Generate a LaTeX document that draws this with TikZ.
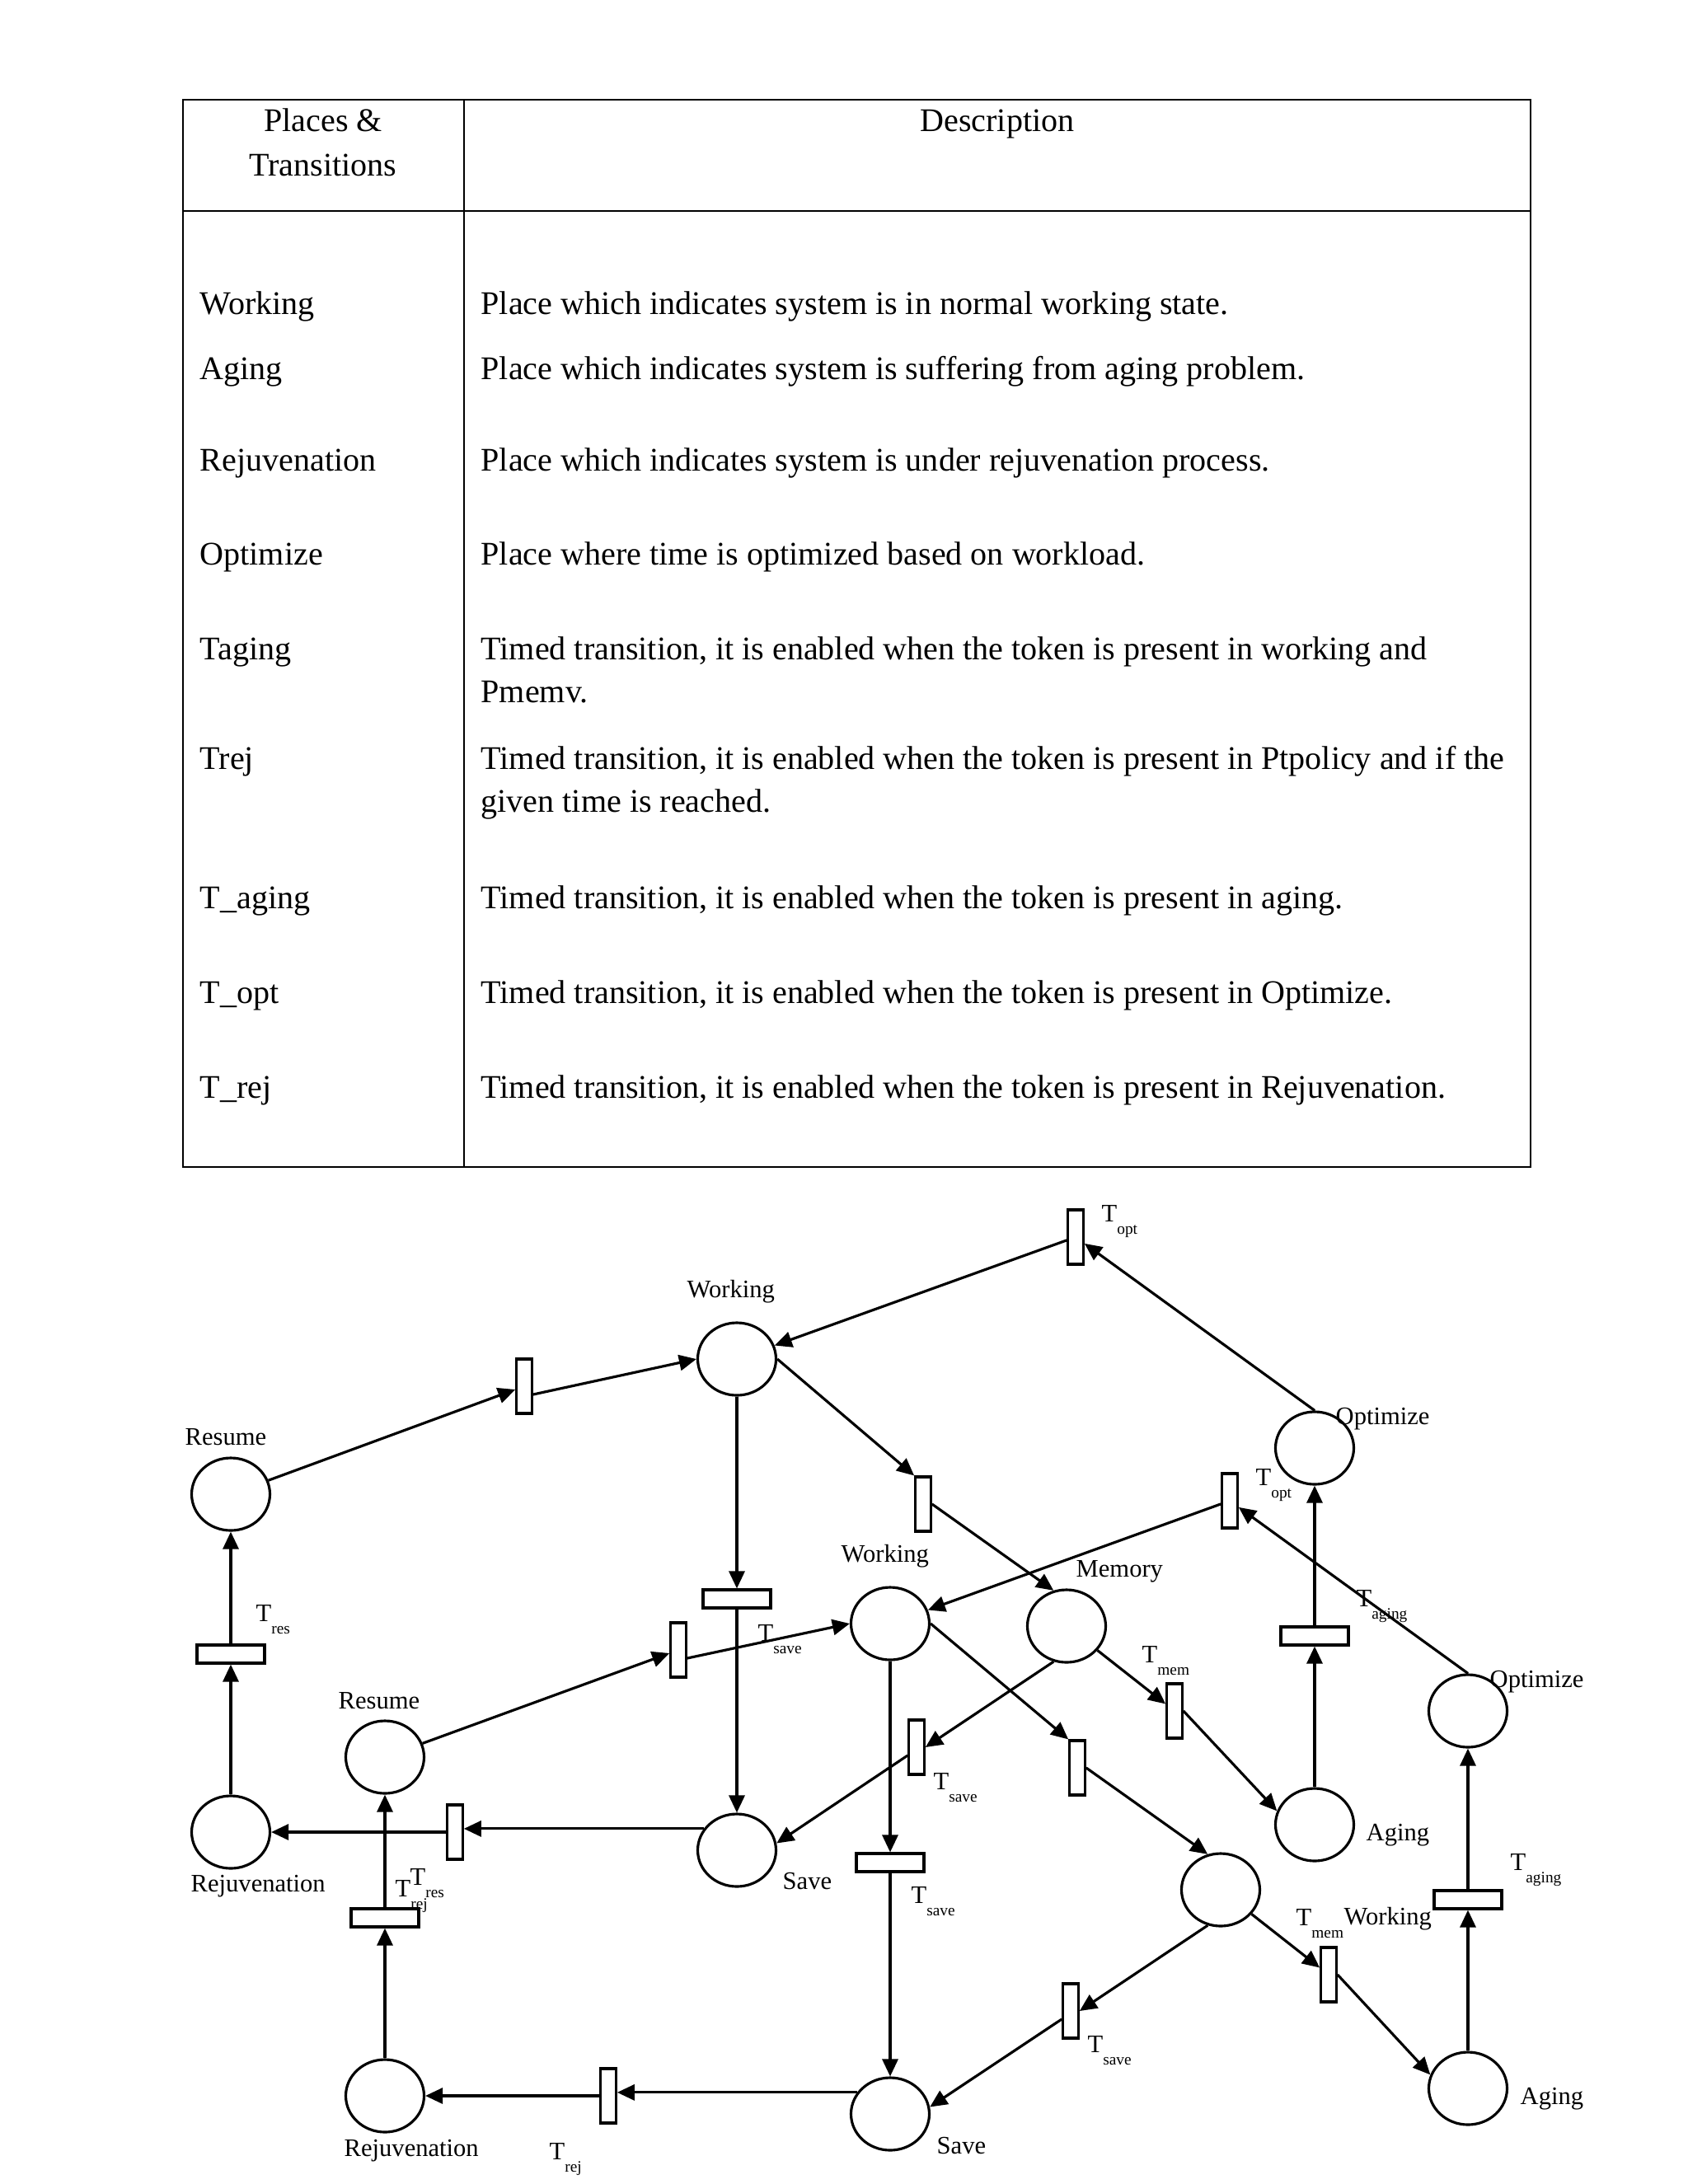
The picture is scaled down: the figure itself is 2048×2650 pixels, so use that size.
\documentclass[tikz,border=0pt]{standalone}
\usepackage{fontspec}
\setmainfont{Liberation Serif}
\usetikzlibrary{shapes.geometric,arrows.meta}
\newcommand{\Tsub}[1]{T\raisebox{-1.5mm}{\fontsize{5.5}{6}\selectfont #1}}

\begin{document}
\begin{tikzpicture}[x=0.1mm,y=-0.1mm,
  cell/.style={anchor=base west,inner sep=0,font=\fontsize{11.4}{14}\selectfont},
  hcell/.style={anchor=base,inner sep=0,font=\fontsize{11.4}{14}\selectfont},
  lab/.style={anchor=base west,inner sep=0,font=\fontsize{8.7}{10}\selectfont},
  place/.style={draw,ellipse,line width=0.9pt,minimum width=9.5mm,minimum height=8.8mm,inner sep=0},
  vbar/.style={draw,rectangle,line width=0.9pt,minimum width=1.85mm,minimum height=6.6mm,inner sep=0},
  hbar/.style={draw,rectangle,line width=0.9pt,minimum width=8.2mm,minimum height=2.2mm,inner sep=0},
  flow/.style={line width=0.9pt,-{Triangle[length=2.1mm,width=1.9mm]}}]
 \useasboundingbox[fill=white] (0,0) rectangle (2048,2650);

 \draw[line width=0.6pt] (222,121) rectangle (1857,1416);
 \draw[line width=0.6pt] (222,256) -- (1857,256);
 \draw[line width=0.6pt] (563,121) -- (563,1416);
 \node[hcell] (head1) at (392,159) {Places \&};
 \node[hcell] (head2) at (392,213) {Transitions};
 \node[hcell] (head3) at (1210,159) {Description};

 \node[cell] (name1) at (242,381) {Working};
 \node[cell] (name2) at (242,460) {Aging};
 \node[cell] (name3) at (242,571) {Rejuvenation};
 \node[cell] (name4) at (242,685) {Optimize};
 \node[cell] (name5) at (242,800) {Taging};
 \node[cell] (name6) at (242,933) {Trej};
 \node[cell] (name7) at (242,1102) {T\_aging};
 \node[cell] (name8) at (242,1217) {T\_opt};
 \node[cell] (name9) at (242,1332) {T\_rej};

 \node[cell] (desc1) at (583,381) {Place which indicates system is in normal working state.};
 \node[cell] (desc2) at (583,460) {Place which indicates system is suffering from aging problem.};
 \node[cell] (desc3) at (583,571) {Place which indicates system is under rejuvenation process.};
 \node[cell] (desc4) at (583,685) {Place where time is optimized based on workload.};
 \node[cell] (desc5) at (583,800) {Timed transition, it is enabled when the token is present in working and};
 \node[cell] (desc5b) at (583,852) {Pmemv.};
 \node[cell] (desc6) at (583,933) {Timed transition, it is enabled when the token is present in Ptpolicy and if the};
 \node[cell] (desc6b) at (583,985) {given time is reached.};
 \node[cell] (desc7) at (583,1102) {Timed transition, it is enabled when the token is present in aging.};
 \node[cell] (desc8) at (583,1217) {Timed transition, it is enabled when the token is present in Optimize.};
 \node[cell] (desc9) at (583,1332) {Timed transition, it is enabled when the token is present in Rejuvenation.};

 \node[place] (work1) at (894,1649) {};
 \node[place] (resume1) at (280,1813) {};
 \node[place] (work2) at (1080,1970) {};
 \node[place] (mem) at (1294,1973) {};
 \node[place] (opt1) at (1595,1757) {};
 \node[place] (opt2) at (1781,2076) {};
 \node[place] (resume2) at (467,2132) {};
 \node[place] (rejuv1) at (280,2223) {};
 \node[place] (save1) at (894,2245) {};
 \node[place] (work3) at (1481,2293) {};
 \node[place] (aging1) at (1595,2214) {};
 \node[place] (aging2) at (1781,2534) {};
 \node[place] (rejuv2) at (467,2543) {};
 \node[place] (save2) at (1080,2565) {};

 \node[vbar] (tA) at (636,1682) {};
 \node[vbar] (tOpt1) at (1305,1501) {};
 \node[vbar] (tB) at (1120,1825) {};
 \node[vbar] (tOpt2) at (1492,1821) {};
 \node[vbar] (tC) at (823,2002) {};
 \node[vbar] (tSave1) at (1112,2120) {};
 \node[vbar] (tD) at (1307,2145) {};
 \node[vbar] (tMem1) at (1425,2076) {};
 \node[vbar] (tRej1) at (552,2223) {};
 \node[vbar] (tSave2) at (1299,2440) {};
 \node[vbar] (tMem2) at (1612,2396) {};
 \node[vbar] (tRej2) at (738,2543) {};
 \node[hbar] (tSaveA) at (894,1940) {};
 \node[hbar] (tRes1) at (280,2007) {};
 \node[hbar] (tAging1) at (1595,1985) {};
 \node[hbar] (tRes2) at (467,2327) {};
 \node[hbar] (tSaveB) at (1080,2260) {};
 \node[hbar] (tAging2) at (1781,2305) {};

 \draw[flow] (resume1) -- (tA);
 \draw[flow] ([yshift=-1mm]tA.east) -- (work1.west);
 \draw[flow] (tOpt1) -- (work1);
 \draw[flow] (opt1.north) -- (tOpt1);
 \draw[flow] (work1.east) -- (tB.north west);
 \draw[flow] (tB.east) -- (mem.110);
 \draw[flow] (work1) -- (tSaveA);
 \draw[flow] (tSaveA) -- (save1);
 \draw[flow] (rejuv1) -- (tRes1);
 \draw[flow] (tRes1) -- (resume1);
 \draw[flow] (resume2) -- (tC);
 \draw[flow] ([yshift=-1mm]tC.east) -- (work2.west);
 \draw[flow] (tOpt2) -- (work2);
 \draw[flow] (opt2.north) -- (tOpt2);
 \draw[flow] (aging1) -- (tAging1);
 \draw[flow] (tAging1) -- (opt1);
 \draw[flow] (work2) -- (tSaveB);
 \draw[flow] (tSaveB) -- (save2);
 \draw[flow] (work2.east) -- (tD.north west);
 \draw[flow] (tD.east) -- (work3.110);
 \draw[flow] (mem.250) -- (tSave1.east);
 \draw[flow] ([yshift=-1mm]tSave1.west) -- (save1.10);
 \draw[flow] (mem) -- (tMem1);
 \draw[flow] (tMem1.east) -- (aging1.160);
 \draw[flow] (save1.147) -- (save1.147 -| tRej1.east);
 \draw[flow] (tRej1) -- (rejuv1);
 \draw[flow] (rejuv2) -- (tRes2);
 \draw[flow] (tRes2) -- (resume2);
 \draw[flow] (work3.250) -- (tSave2.east);
 \draw[flow] ([yshift=-1mm]tSave2.west) -- (save2.10);
 \draw[flow] (work3) -- (tMem2);
 \draw[flow] (tMem2.east) -- (aging2.160);
 \draw[flow] (aging2) -- (tAging2);
 \draw[flow] (tAging2) -- (opt2);
 \draw[flow] (save2.147) -- (save2.147 -| tRej2.east);
 \draw[flow] (tRej2) -- (rejuv2);

 \node[lab] (lWork1) at (833,1574) {Working};
 \node[lab] (lResume1) at (224,1753) {Resume};
 \node[lab] (lWork2) at (1020,1895) {Working};
 \node[lab] (lMem) at (1305,1913) {Memory};
 \node[lab] (lOpt1) at (1620,1728) {Optimize};
 \node[lab] (lOpt2) at (1807,2047) {Optimize};
 \node[lab] (lResume2) at (410,2073) {Resume};
 \node[lab] (lRejuv1) at (231,2295) {Rejuvenation};
 \node[lab] (lSave1) at (949,2292) {Save};
 \node[lab] (lAging1) at (1657,2233) {Aging};
 \node[lab] (lWork3) at (1630,2335) {Working};
 \node[lab] (lAging2) at (1844,2553) {Aging};
 \node[lab] (lRejuv2) at (417,2616) {Rejuvenation};
 \node[lab] (lSave2) at (1136,2613) {Save};

 \node[lab] (lTOpt1) at (1336,1482) {\Tsub{opt}};
 \node[lab] (lTRes1) at (310,1967) {\Tsub{res}};
 \node[lab] (lTSaveA) at (919,1991) {\Tsub{save}};
 \node[lab] (lTOpt2) at (1523,1802) {\Tsub{opt}};
 \node[lab] (lTAging1) at (1645,1949) {\Tsub{aging}};
 \node[lab] (lTMem1) at (1385,2017) {\Tsub{mem}};
 \node[lab] (lTSave1) at (1132,2171) {\Tsub{save}};
 \node[lab] (lTSaveB) at (1105,2309) {\Tsub{save}};
 \node[lab] (lTRej1) at (479,2301) {\Tsub{rej}};
 \node[lab] (lTRes2) at (497,2287) {\Tsub{res}};
 \node[lab] (lTMem2) at (1572,2336) {\Tsub{mem}};
 \node[lab] (lTAging2) at (1832,2269) {\Tsub{aging}};
 \node[lab] (lTSave2) at (1319,2490) {\Tsub{save}};
 \node[lab] (lTRej2) at (666,2620) {\Tsub{rej}};
\end{tikzpicture}
\end{document}
